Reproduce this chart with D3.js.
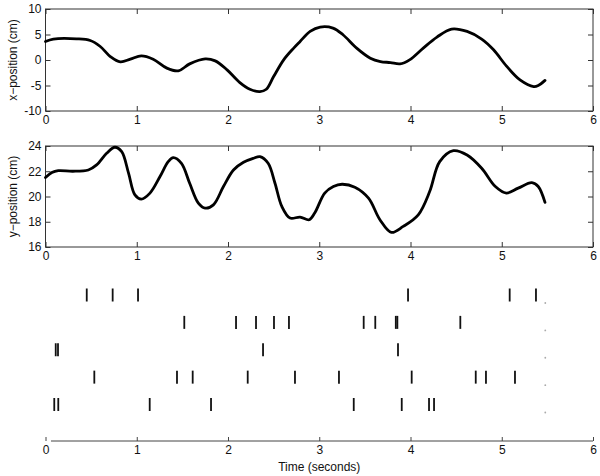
<!DOCTYPE html>
<html><head><meta charset="utf-8">
<script src="https://cdn.jsdelivr.net/npm/d3@7"></script>
<style>body{margin:0;background:#fff}svg{display:block}text{font-family:"Liberation Sans",Arial,sans-serif;fill:#111}</style>
</head><body><svg id="c" width="600" height="476"></svg>
<script>
// ---- data ----
const timeTicks = [0,1,2,3,4,5,6];
const xPosTicks = [-10,-5,0,5,10];
const yPosTicks = [16,18,20,22,24];

const xPosT = [0,0.086,0.34,0.49,0.60,0.71,0.82,0.93,1.05,1.18,1.33,1.455,1.58,1.75,1.86,1.99,2.13,2.24,2.35,2.42,2.50,2.61,2.72,2.79,2.90,3.01,3.15,3.26,3.41,3.56,3.67,3.78,3.885,3.99,4.14,4.29,4.45,4.62,4.78,4.91,5.05,5.20,5.35,5.40,5.474];
const xPosV = [3.63,4.1,4.15,3.83,2.65,0.68,-0.36,0.16,0.82,0.16,-1.6,-2.13,-0.76,0.23,-0.17,-1.94,-4.43,-5.74,-6.2,-5.74,-3.25,0.03,2.33,3.63,5.6,6.46,6.26,4.95,2.33,0.36,-0.3,-0.5,-0.76,0.03,2.33,4.49,6.07,5.6,4.1,2.0,-1.15,-3.9,-5.2,-5.0,-4.0];

const yPosT = [0,0.07,0.14,0.30,0.47,0.56,0.67,0.76,0.835,0.91,0.98,1.05,1.145,1.255,1.345,1.40,1.49,1.58,1.675,1.75,1.84,1.95,2.06,2.17,2.28,2.35,2.44,2.515,2.59,2.68,2.79,2.89,2.95,3.06,3.155,3.25,3.39,3.54,3.665,3.79,3.92,4.085,4.21,4.32,4.47,4.62,4.78,4.93,5.05,5.18,5.33,5.40,5.474];
const yPosV = [21.5,21.9,22.05,22.0,22.1,22.5,23.42,23.9,23.55,21.85,20.13,19.8,20.27,21.58,22.76,23.08,22.63,21.05,19.48,19.08,19.34,20.79,22.1,22.71,23.03,23.16,22.63,21.05,19.21,18.29,18.37,18.16,18.69,20.27,20.79,20.97,20.74,19.87,18.16,17.16,17.63,18.55,20.39,22.76,23.63,23.29,22.24,20.79,20.27,20.66,21.1,20.79,19.53];

const trials = [1,2,3,4,5];
const spikes1 = [0.452,0.736,1.014,3.973,5.087,5.375];
const spikes2 = [1.521,2.088,2.307,2.504,2.668,3.487,3.614,3.839,3.856,4.546];
const spikes3 = [0.112,0.137,2.384,3.863];
const spikes4 = [0.535,1.441,1.613,2.216,2.734,3.216,4.013,4.715,4.827,5.145];
const spikes5 = [0.096,0.140,1.142,1.814,3.378,3.904,4.203,4.258];
const trialEnd = 5.477;

// ---- drawing ----
const svg = d3.select("#c");
const x = d3.scaleLinear().domain([0,6]).range([45.5,593]);
const boxColor = "#333";

function styleAxis(s){
  s.select(".domain").remove();
  s.selectAll("line").attr("stroke",boxColor);
  s.selectAll("text").attr("font-size",12).style("font-family","Liberation Sans, Arial, sans-serif").attr("fill","#111");
}

function panel(yDomain, yRange, ticks, tVals, vVals, label){
  const y = d3.scaleLinear().domain(yDomain).range(yRange);
  const g = svg.append("g");
  const y0 = yRange[0], y1 = yRange[1]; // bottom, top
  const axB = d3.axisBottom(x).tickValues(timeTicks).tickSizeInner(-5).tickSizeOuter(0).tickPadding(4.5).tickFormat(d3.format("d"));
  const axT = d3.axisTop(x).tickValues(timeTicks).tickSizeInner(-5).tickSizeOuter(0).tickFormat("");
  const axL = d3.axisLeft(y).tickValues(ticks).tickSizeInner(-5).tickSizeOuter(0).tickPadding(4).tickFormat(d=>String(d));
  const axR = d3.axisRight(y).tickValues(ticks).tickSizeInner(-5).tickSizeOuter(0).tickFormat("");
  [[axB,`translate(0,${y0})`],[axT,`translate(0,${y1})`],[axL,`translate(${x(0)},0)`],[axR,`translate(${x(6)},0)`]].forEach(([a,t])=>{
    styleAxis(g.append("g").attr("transform",t).call(a));
  });
  g.append("rect").attr("x",x(0)).attr("y",y1).attr("width",x(6)-x(0)).attr("height",y0-y1)
    .attr("fill","none").attr("stroke",boxColor).attr("stroke-width",1);
  const pts = tVals.map((t,i)=>[t,vVals[i]]);
  g.append("path").datum(pts)
    .attr("d",d3.line().x(d=>x(d[0])).y(d=>y(d[1])).curve(d3.curveCatmullRom.alpha(0.5)))
    .attr("fill","none").attr("stroke","#000").attr("stroke-width",2.8).attr("stroke-linejoin","round").attr("stroke-linecap","round");
  g.append("text").attr("transform",`translate(17,${(y0+y1)/2}) rotate(-90)`)
    .attr("text-anchor","middle").attr("font-size",12).text(label);
}

panel([-10,10],[111,9],xPosTicks,xPosT,xPosV,"x\u2212position (cm)");
panel([16,24],[247,146],yPosTicks,yPosT,yPosV,"y\u2212position (cm)");

// raster
const yr = d3.scaleLinear().domain([1,5]).range([295,404.5]);
const allSpikes = [spikes1,spikes2,spikes3,spikes4,spikes5];
const rg = svg.append("g");
trials.forEach((tr,i)=>{
  rg.selectAll(null).data(allSpikes[i]).enter().append("line")
    .attr("x1",d=>x(d)).attr("x2",d=>x(d))
    .attr("y1",yr(tr)-6.5).attr("y2",yr(tr)+6.5)
    .attr("stroke","#111").attr("stroke-width",1.8);
  rg.append("circle").attr("cx",x(trialEnd)).attr("cy",yr(tr)+8).attr("r",0.9).attr("fill","#aaa");
});
// raster time axis
const axY = 441;
rg.append("line").attr("x1",x(0.06)).attr("x2",x(6)).attr("y1",axY).attr("y2",axY).attr("stroke","#444").attr("stroke-width",1);
const ax = rg.append("g").attr("transform",`translate(0,${axY})`)
  .call(d3.axisBottom(x).tickValues(timeTicks).tickSizeInner(-4).tickSizeOuter(0).tickPadding(4).tickFormat(d3.format("d")));
styleAxis(ax);
ax.selectAll("line").attr("stroke","#444");
svg.append("text").attr("x",(x(0)+x(6))/2).attr("y",471).attr("text-anchor","middle").attr("font-size",12).text("Time (seconds)");
</script></body></html>
